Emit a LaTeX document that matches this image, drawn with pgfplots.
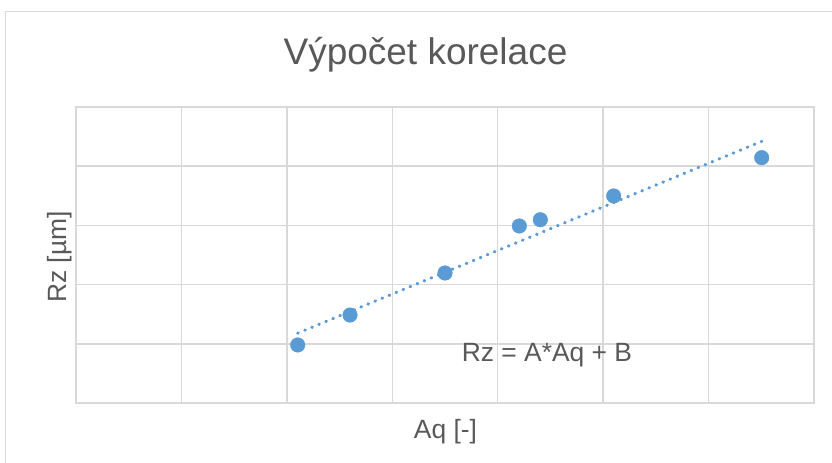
\documentclass[border=0pt]{standalone}
\usepackage{fontspec}
\setmainfont{Liberation Sans}
\usepackage{pgfplots}
\pgfplotsset{compat=1.18}
\definecolor{ser}{HTML}{5B9BD5}
\definecolor{gridc}{HTML}{D9D9D9}
\definecolor{txt}{HTML}{595959}
\begin{document}
\begin{tikzpicture}
\useasboundingbox (-76bp,-60bp) rectangle (756bp,403bp);
\fill[white] (-76bp,-60bp) rectangle (756bp,403bp);
\draw[gridc, line width=1.5bp] (-70.5bp,-70bp) -- (-70.5bp,391.5bp) -- (770bp,391.5bp);
\begin{axis}[
  at={(0,0)}, anchor=south west,
  scale only axis, width=738bp, height=296bp,
  xmin=0, xmax=7, ymin=0, ymax=5,
  xtick={0,...,7}, ytick={0,...,5},
  xticklabels={}, yticklabels={},
  major tick length=0pt,
  grid=major,
  major grid style={gridc, line width=1.5bp},
  axis line style={gridc, line width=1.5bp},
  clip=false,
]
\addplot[draw=ser, line width=3.2bp, line cap=round, dash pattern=on 0.6bp off 7bp]
  coordinates {(2.103,1.18) (6.504,4.42)};
\addplot[only marks, mark=*, mark size=7.3bp, mark options={draw=ser, fill=ser}]
  coordinates {
  (2.103,0.980)
  (2.599,1.486)
  (3.500,2.196)
  (4.205,2.990)
  (4.404,3.096)
  (5.100,3.497)
  (6.504,4.144)
  };
\node[anchor=base, text=txt, font=\fontsize{26.4bp}{30bp}\selectfont] at (axis cs:4.467,0.693) {Rz = A*Aq + B};
\end{axis}
\node[anchor=base, text=txt, font=\fontsize{37bp}{42bp}\selectfont] at (349.5bp,338bp) {Výpočet korelace};
\node[anchor=base, text=txt, font=\fontsize{26.4bp}{30bp}\selectfont] at (369.5bp,-35bp) {Aq [-]};
\node[rotate=90, anchor=center, text=txt, font=\fontsize{26.4bp}{30bp}\selectfont] at (-16.5bp,146bp) {Rz [µm]};
\end{tikzpicture}
\end{document}
